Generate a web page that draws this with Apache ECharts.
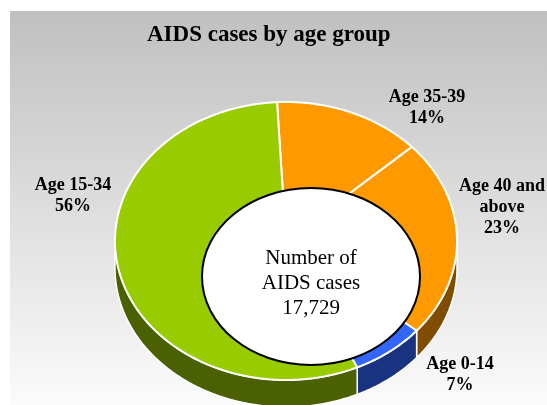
<!DOCTYPE html>
<html><head><meta charset="utf-8">
<script src="https://cdn.jsdelivr.net/npm/echarts@6/dist/echarts.min.js"></script>
<style>html,body{margin:0;padding:0;background:#fff}#c{width:547px;height:405px}</style>
</head><body><div id="c"></div>
<script>
// ---- data ----
const categories = ['Age 35-39', 'Age 40 and\nabove', 'Age 0-14', 'Age 15-34'];
const values = [14, 23, 7, 56];
const totalCases = 17729;
const centerLines = ['Number of', 'AIDS cases'];

// ---- style / layout ----
const topColors = ['#ff9900', '#ff9900', '#3366ff', '#99cc00'];
const sideColors = ['#7f4c00', '#7f4c00', '#1a3380', '#4b6000'];
const CX = 286, CY = 241, RX = 171, RY = 139, DEPTH = 27, START = -3 * Math.PI / 180;
const labelPos = [[427, 108], [502, 207], [460, 375], [73, 196]];

const total = values.reduce((a, b) => a + b, 0);
function pt(t, dy) { return [CX + RX * Math.sin(t), CY - RY * Math.cos(t) + (dy || 0)]; }
function arc(a1, a2, dy) {
  const n = Math.max(2, Math.ceil((a2 - a1) / 0.01)); const r = [];
  for (let i = 0; i <= n; i++) r.push(pt(a1 + (a2 - a1) * i / n, dy));
  return r;
}

const chart = echarts.init(document.getElementById('c'), null, {renderer: 'canvas'});
chart.setOption({
  animation: false,
  title: {
    text: 'AIDS cases by age group', left: 142, top: 19,
    textStyle: {fontFamily: '"Liberation Serif", "Times New Roman", serif', fontWeight: 'bold', fontSize: 23, color: '#000'}
  },
  graphic: [
    {type: 'rect', z: -10, shape: {x: 10, y: 11, width: 537, height: 394},
     style: {fill: new echarts.graphic.LinearGradient(0, 0, 0, 1, [{offset: 0, color: '#c0c0c0'}, {offset: 1, color: '#fbfbfb'}])}},
    {type: 'ellipse', z: 50, shape: {cx: 311, cy: 276.5, rx: 109, ry: 88.5},
     style: {fill: '#fff', stroke: '#000', lineWidth: 2}},
    {type: 'text', z: 51, x: 311, y: 283,
     style: {text: centerLines.concat([totalCases.toLocaleString('en-US')]).join('\n'),
             font: '21px "Liberation Serif", "Times New Roman", serif', fill: '#000',
             align: 'center', verticalAlign: 'middle', lineHeight: 25}}
  ],
  series: [{
    type: 'custom', coordinateSystem: 'none',
    data: values.map((v, i) => [i, v]),
    renderItem: function (params, api) {
      const i = params.dataIndex;
      let before = 0; for (let k = 0; k < i; k++) before += values[k];
      const v = api.value(1);
      const a1 = START + before / total * 2 * Math.PI;
      const a2 = a1 + v / total * 2 * Math.PI;
      const children = [];
      const b1 = Math.max(a1, Math.PI / 2), b2 = Math.min(a2, 3 * Math.PI / 2);
      if (b2 > b1) {
        const top = arc(b1, b2, 0), bot = arc(b1, b2, DEPTH).reverse();
        children.push({type: 'polygon', z2: 1, shape: {points: top.concat(bot)},
          style: {fill: sideColors[i], stroke: '#fff', lineWidth: 1.5}});
      }
      children.push({type: 'polygon', z2: 2, shape: {points: [[CX, CY]].concat(arc(a1, a2, 0))},
        style: {fill: topColors[i], stroke: '#fff', lineWidth: 2, lineJoin: 'round'}});
      children.push({type: 'text', z2: 3, x: labelPos[i][0], y: labelPos[i][1],
        style: {text: categories[i] + '\n' + Math.round(v / total * 100) + '%',
                font: 'bold 18px "Liberation Serif", "Times New Roman", serif', fill: '#000',
                align: 'center', verticalAlign: 'middle', lineHeight: 21}});
      return {type: 'group', children: children};
    }
  }]
});
</script></body></html>
